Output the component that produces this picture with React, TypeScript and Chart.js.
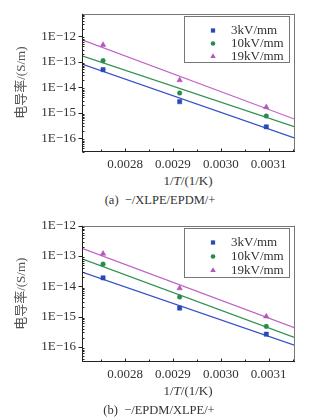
import React, { useEffect, useRef } from "react";
import { Chart, registerables } from "chart.js";

Chart.register(...registerables);

// ---- data ----
const seriesLabels = ["3kV/mm", "10kV/mm", "19kV/mm"];
const invT = [0.002754, 0.002914, 0.003095];
const xBounds = [0.00271, 0.003155];
const xTicks = [0.0028, 0.0029, 0.003, 0.0031];
const yDecades = [-16, -15, -14, -13, -12];

// chart (a) -/XLPE/EPDM/+
const a3kV = [4.9e-14, 2.7e-15, 2.8e-16];
const a10kV = [1.1e-13, 5.9e-15, 7.4e-16];
const a19kV = [4.6e-13, 1.9e-14, 1.66e-15];
const aFit3kV = [8.1e-14, 1.0e-16];
const aFit10kV = [1.7e-13, 2.75e-16];
const aFit19kV = [7.2e-13, 5.5e-16];
const aYRange = [3.0e-17, 7.6e-12];

// chart (b) -/EPDM/XLPE/+
const b3kV = [1.9e-14, 1.9e-15, 2.6e-16];
const b10kV = [5.4e-14, 4.4e-15, 4.7e-16];
const b19kV = [1.2e-13, 8.6e-15, 1.0e-15];
const bFit3kV = [2.95e-14, 1.1e-16];
const bFit10kV = [8.1e-14, 2.0e-16];
const bFit19kV = [1.8e-13, 4.2e-16];
const bYRange = [3.2e-17, 1e-12];

const pointColors = ["#2a48b6", "#2a8a4c", "#b457b8"];
const lineColors = ["#3550c8", "#2f9050", "#c060c8"];
const pointStyles = ["rect", "circle", "triangle"];
const pointRadii = [3.0, 2.3, 3.2];

const SERIF = "'Liberation Serif', 'Times New Roman', serif";
const TEXT = "#333";

function drawMarker(ctx: CanvasRenderingContext2D, style: string, x: number, y: number, r: number) {
  ctx.beginPath();
  if (style === "rect") {
    const s = Math.SQRT1_2 * r;
    ctx.rect(x - s, y - s, 2 * s, 2 * s);
  } else if (style === "circle") {
    ctx.arc(x, y, r, 0, Math.PI * 2);
  } else {
    ctx.moveTo(x, y - r);
    ctx.lineTo(x + (r * Math.sqrt(3)) / 2, y + r / 2);
    ctx.lineTo(x - (r * Math.sqrt(3)) / 2, y + r / 2);
    ctx.closePath();
  }
  ctx.fill();
}

function makeDecor(legendTop: number, rowGap: number) {
  return {
    id: "decor",
    afterDraw(chart: any) {
      const { ctx, chartArea: ca, scales } = chart;
      const xs = scales.x;
      const ys = scales.y;
      ctx.save();
      ctx.lineWidth = 1;
      // frame top/right
      ctx.strokeStyle = "#777";
      ctx.beginPath();
      ctx.moveTo(ca.left, Math.round(ca.top) + 0.5);
      ctx.lineTo(ca.right, Math.round(ca.top) + 0.5);
      ctx.moveTo(Math.round(ca.right) - 0.5, ca.top);
      ctx.lineTo(Math.round(ca.right) - 0.5, ca.bottom);
      ctx.stroke();
      // frame left/bottom
      ctx.strokeStyle = "#222";
      ctx.beginPath();
      ctx.moveTo(Math.round(ca.left) + 0.5, ca.top);
      ctx.lineTo(Math.round(ca.left) + 0.5, ca.bottom);
      ctx.moveTo(ca.left, Math.round(ca.bottom) - 0.5);
      ctx.lineTo(ca.right, Math.round(ca.bottom) - 0.5);
      ctx.stroke();
      // y ticks
      const lo = Math.floor(Math.log10(ys.min));
      const hi = Math.ceil(Math.log10(ys.max));
      const lx = Math.round(ca.left) + 0.5;
      ctx.beginPath();
      for (let e = lo; e <= hi; e++) {
        for (let m = 1; m <= 9; m++) {
          const v = m * Math.pow(10, e);
          if (v < ys.min || v > ys.max) continue;
          const py = Math.round(ys.getPixelForValue(v)) + 0.5;
          if (m === 1) {
            ctx.moveTo(lx - 4, py);
            ctx.lineTo(lx, py);
          } else {
            ctx.moveTo(lx, py);
            ctx.lineTo(lx + 2, py);
          }
        }
      }
      // x ticks
      const by = Math.round(ca.bottom) - 0.5;
      for (const t of xTicks) {
        const px = Math.round(xs.getPixelForValue(t)) + 0.5;
        ctx.moveTo(px, by);
        ctx.lineTo(px, by - 3);
        const mx = Math.round(xs.getPixelForValue(t + 0.00005)) + 0.5;
        if (mx < ca.right) {
          ctx.moveTo(mx, by);
          ctx.lineTo(mx, by - 2);
        }
      }
      const fx = Math.round(xs.getPixelForValue(xTicks[0] - 0.00005)) + 0.5;
      ctx.moveTo(fx, by);
      ctx.lineTo(fx, by - 2);
      ctx.stroke();

      // legend box
      const boxL = 184.5;
      const boxR = 289.5;
      const boxT = Math.round(ca.top + legendTop) + 0.5;
      const boxB = boxT + rowGap * 3 + 7;
      ctx.strokeStyle = "#777";
      ctx.strokeRect(boxL, boxT, boxR - boxL, boxB - boxT);
      ctx.font = `13px ${SERIF}`;
      ctx.textBaseline = "middle";
      ctx.textAlign = "left";
      for (let i = 0; i < 3; i++) {
        const ry = boxT + 14 + i * rowGap;
        ctx.fillStyle = pointColors[i];
        drawMarker(ctx, pointStyles[i], 213, ry, pointRadii[i]);
        ctx.fillStyle = TEXT;
        ctx.fillText(seriesLabels[i], 231, ry);
      }
      ctx.restore();
    },
  };
}

function buildDatasets(pts: number[][], fits: number[][]) {
  const ds: any[] = [];
  for (let i = 0; i < 3; i++) {
    ds.push({
      type: "line",
      label: seriesLabels[i] + " fit",
      data: [
        { x: xBounds[0], y: fits[i][0] },
        { x: xBounds[1], y: fits[i][1] },
      ],
      borderColor: lineColors[i],
      borderWidth: 1.2,
      pointRadius: 0,
      fill: false,
      order: 2,
    });
  }
  for (let i = 0; i < 3; i++) {
    ds.push({
      type: "scatter",
      label: seriesLabels[i],
      data: invT.map((x, j) => ({ x, y: pts[i][j] })),
      backgroundColor: pointColors[i],
      borderColor: pointColors[i],
      borderWidth: 0.5,
      pointStyle: pointStyles[i],
      pointRadius: pointRadii[i],
      order: 1,
    });
  }
  return ds;
}

function LogChart(props: {
  height: number;
  plotBottom: number;
  yRange: number[];
  pts: number[][];
  fits: number[][];
  legendTop: number;
  rowGap: number;
}) {
  const ref = useRef<HTMLCanvasElement | null>(null);
  useEffect(() => {
    if (!ref.current) return;
    const { height, plotBottom, yRange, pts, fits, legendTop, rowGap } = props;
    const chart = new Chart(ref.current, {
      type: "scatter",
      data: { datasets: buildDatasets(pts, fits) },
      options: {
        responsive: false,
        animation: false,
        layout: { padding: { top: 13, right: 26, left: 0, bottom: 0 } },
        plugins: { legend: { display: false }, tooltip: { enabled: false } },
        scales: {
          x: {
            type: "linear",
            min: xBounds[0],
            max: xBounds[1],
            grid: { display: false, drawTicks: false },
            border: { display: false },
            afterBuildTicks: (s: any) => {
              s.ticks = xTicks.map((v) => ({ value: v }));
            },
            afterFit: (s: any) => {
              s.height = height - plotBottom;
            },
            ticks: {
              autoSkip: false,
              maxRotation: 0,
              padding: 5,
              color: TEXT,
              font: { family: SERIF, size: 13 },
              callback: (v: any) => Number(v).toFixed(4),
            },
          },
          y: {
            type: "logarithmic",
            min: yRange[0],
            max: yRange[1],
            grid: { display: false, drawTicks: false },
            border: { display: false },
            afterBuildTicks: (s: any) => {
              s.ticks = yDecades.map((e) => ({ value: Math.pow(10, e) }));
            },
            afterFit: (s: any) => {
              s.width = 82;
            },
            title: {
              display: true,
              text: "电导率/(S/m)",
              color: "#555",
              font: { family: SERIF + ", 'Noto Sans CJK SC'", size: 13 },
              padding: { top: 14, bottom: 0 },
            },
            ticks: {
              autoSkip: false,
              padding: 6,
              color: TEXT,
              font: { family: SERIF, size: 13 },
              callback: (v: any) => {
                const e = Math.round(Math.log10(Number(v)));
                return "1E" + (e < 0 ? "\u2212" + Math.abs(e) : String(e));
              },
            },
          },
        },
      },
      plugins: [makeDecor(legendTop, rowGap)],
    } as any);
    return () => chart.destroy();
  }, []);
  return <canvas ref={ref} width={321} height={props.height} style={{ display: "block" }} />;
}

const textStyle: React.CSSProperties = {
  position: "absolute",
  transform: "translate(-50%, -50%)",
  whiteSpace: "nowrap",
  fontFamily: SERIF,
  fontSize: 13,
  color: TEXT,
  lineHeight: 1,
};

export default function App() {
  return (
    <div
      style={{
        position: "fixed",
        left: 0,
        top: 0,
        width: 321,
        height: 419,
        background: "#fff",
        overflow: "hidden",
      }}
    >
      <div style={{ position: "absolute", left: 0, top: 0 }}>
        <LogChart
          height={172}
          plotBottom={151.5}
          yRange={aYRange}
          pts={[a3kV, a10kV, a19kV]}
          fits={[aFit3kV, aFit10kV, aFit19kV]}
          legendTop={2}
          rowGap={13}
        />
      </div>
      <div style={{ ...textStyle, left: 188, top: 180 }}>
        1/<i>T</i>/(1/K)
      </div>
      <div style={{ ...textStyle, left: 160, top: 199.5, fontSize: 12.5 }}>
        (a)&nbsp;&nbsp;−/XLPE/EPDM/+
      </div>
      <div style={{ position: "absolute", left: 0, top: 212 }}>
        <LogChart
          height={172}
          plotBottom={149.7}
          yRange={bYRange}
          pts={[b3kV, b10kV, b19kV]}
          fits={[bFit3kV, bFit10kV, bFit19kV]}
          legendTop={2}
          rowGap={14}
        />
      </div>
      <div style={{ ...textStyle, left: 188, top: 390 }}>
        1/<i>T</i>/(1/K)
      </div>
      <div style={{ ...textStyle, left: 159, top: 410, fontSize: 12.5 }}>
        (b)&nbsp;&nbsp;−/EPDM/XLPE/+
      </div>
    </div>
  );
}
